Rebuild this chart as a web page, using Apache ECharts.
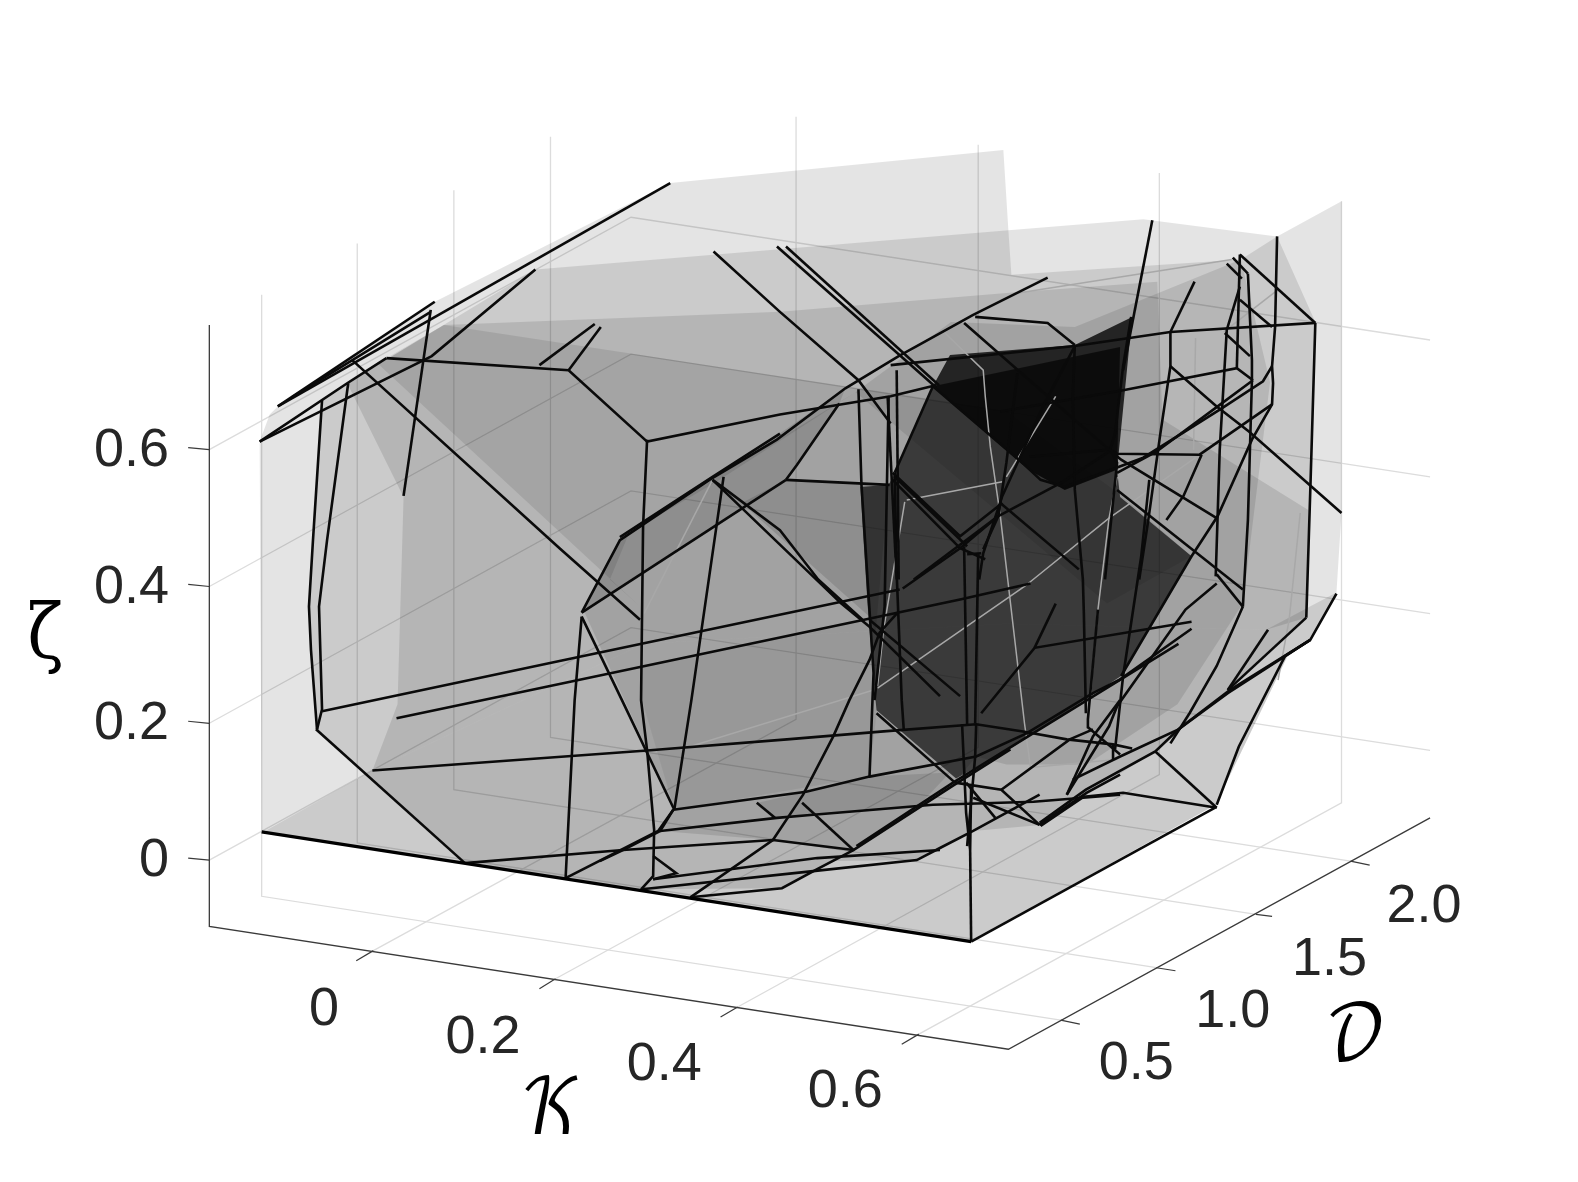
<!DOCTYPE html>
<html><head><meta charset="utf-8">
<style>html,body{margin:0;padding:0;background:#fff}#c{width:1578px;height:1182px}</style>
<script src="https://cdn.jsdelivr.net/npm/echarts@6/dist/echarts.min.js"></script>
</head><body><div id="c"></div>
<script>
const zTickLabels=[['0.6',168,448],['0.4',168,585],['0.2',168,720],['0',168,856]];
const kTickLabels=[['0',322,1004],['0.2',480,1032],['0.4',660,1059],['0.6',840,1086]];
const dTickLabels=[['0.5',1129,1058],['1.0',1225,1006],['1.5',1321,954],['2.0',1415,902]];
const axisTitles=[['ζ',45,632],['𝒦',548,1105],['𝒟',1347,1030]];

const axisBox=[[[208,323],[208,921],[1002,1043],[1421,813]]];
const axisTicks=[
[[187,445],[208,447]],[[187,581],[208,583]],[[187,717],[208,719]],[[187,853],[208,855]],
[[371,945],[354,955]],[[552,973],[536,983]],[[733,1001],[716,1011]],[[913,1028],[896,1038]],
[[1054,1014],[1073,1018]],[[1149,962],[1168,965]],[[1248,909],[1264,911]],[[1342,856],[1361,860]]];
const gridLines=[
[[208,447],[627,216],[1421,338]],[[208,583],[627,352],[1421,474]],[[208,719],[627,488],[1421,610]],[[208,855],[627,624],[1421,746]],
[[260,293],[260,891],[1054,1014]],[[355,242],[355,838],[1149,962]],[[451,189],[451,785],[1248,909]],[[547,136],[547,733],[1342,856]],
[[371,945],[791,715],[791,116]],[[552,973],[972,743],[972,144]],[[733,1001],[1152,770],[1152,172]],[[913,1028],[1333,798],[1333,200]]];

const fillSilhouette=[[258,439],[268,412],[276,404],[432,300],[666,182],[997,149],[1002,229],[1136,218],[1269,235],[1333,200],[1333,510],[1328,589],[1302,636],[1279,653],[1208,800],[965,936],[260,828]];
const fillFloor=[[260,828],[965,936],[1208,800],[1279,653],[1302,636],[1328,589],[1258,626],[1000,620],[640,640],[370,766]];
const fillBackPlane=[[320,398],[345,381],[532,268],[1002,229],[1005,273],[1233,258],[1269,235],[1307,320],[1302,480],[1298,614],[1222,685],[1147,747],[1079,791],[1034,820],[967,826],[911,855],[830,856],[777,883],[640,884],[462,858],[315,725],[307,603],[311,537]];
const fillMiddle=[[345,381],[441,323],[775,310],[1003,291],[1150,280],[1155,417],[1300,507],[1298,614],[1258,626],[1000,620],[640,640],[370,766],[395,700],[401,494]];
const fillWedge=[[375,361],[441,323],[775,374],[1000,408],[1111,490],[1184,553],[1100,600],[850,390],[715,477],[625,530],[606,576],[636,603]];
const fillBody=[[580,607],[616,537],[708,477],[850,390],[945,320],[1068,325],[1233,258],[1262,380],[1235,600],[1170,700],[1080,760],[1000,760],[970,752],[864,772],[670,805]];
const fillBodyUpper=[[578,609],[616,537],[708,477],[840,386],[834,401],[781,477]];
const fillBodyRight=[[737,500],[781,477],[883,482],[870,630],[864,613]];
const fillBodyLower=[[638,662],[864,615],[872,700],[864,772],[670,805],[638,696]];
const fillLowerBand=[[656,826],[669,805],[864,772],[970,752],[947,780],[848,845],[768,835]];
const fillLowerDark=[[753,798],[801,787],[864,772],[944,768],[911,803],[808,810],[770,813]];
const fillCore=[[927,384],[1113,345],[1110,467],[1113,494],[1184,553],[1114,672],[1004,744],[950,774],[871,706],[868,676],[862,600],[857,520],[855,484],[883,482],[889,471]];
const fillCap=[[944,353],[1068,343],[1125,315],[1110,467],[1058,487],[1022,467],[927,384]];
const fillLayers=[
 [fillSilhouette,.106],[fillFloor,.106],[fillBackPlane,.106],[fillMiddle,.106],
 [fillWedge,.09],[fillBody,.1],[fillBodyUpper,.12],[fillBodyRight,.12],[fillBodyLower,.06],[fillLowerBand,.1],[fillLowerDark,.1],[fillCore,.64],[fillCap,.78]];

const blackEdges=[
// upper left
[[276,404],[432,300]],[[276,404],[666,182]],[[258,439],[429,354],[532,268]],[[258,439],[345,381],[384,356]],[[290,395],[428,310]],
[[384,356],[565,368],[643,439],[775,412],[885,394],[930,383]],[[536,363],[591,322]],[[565,368],[597,325]],
[[428,308],[401,493]],[[320,398],[311,537],[307,603],[309,646],[315,725]],[[346,381],[325,537],[317,603],[320,705],[315,725]],
[[350,358],[556,545],[636,616]],[[643,437],[639,523],[637,696],[643,746],[650,825],[649,871],[637,884]],
// left face of the body
[[578,609],[616,537],[705,477],[772,437],[840,386],[893,354],[967,313],[1041,276]],[[616,534],[708,474],[775,431]],
[[578,609],[781,477]],[[708,477],[836,600],[864,623],[934,692]],[[719,474],[687,696],[670,805]],
[[578,613],[618,696],[670,805]],[[578,613],[571,696],[562,873]],[[562,873],[654,826],[669,805]],
[[781,477],[792,462],[834,401]],[[781,477],[884,482]],[[853,387],[856,482],[868,669],[864,772]],[[883,394],[879,603],[869,696]],
[[889,470],[891,570],[896,696],[898,725]],[[889,470],[927,384]],[[887,477],[954,545],[979,556]],[[887,470],[954,533],[996,500]],[[897,585],[954,545],[992,513]],
[[892,609],[874,629],[864,656],[844,696],[828,732],[798,790],[768,835],[686,892]],[[864,616],[954,692]],
[[320,707],[556,657],[894,586]],[[394,714],[556,680],[954,596],[1024,580]],
// top centre
[[709,250],[775,310],[853,378],[885,421]],[[772,245],[930,385]],[[781,245],[933,383]],
[[969,315],[1041,321],[1068,343]],[[885,363],[1068,344],[1163,330],[1307,321]],
// right
[[1307,321],[1302,487],[1298,614]],[[1269,235],[1267,325],[1264,364],[1265,381],[1264,402],[1244,437],[1210,513],[1184,553],[1114,672]],
[[1232,253],[1307,321]],[[1225,256],[1240,272]],[[1219,262],[1234,277]],[[1232,298],[1264,325]],[[1232,253],[1229,366]],
[[1240,272],[1244,358],[1244,378],[1240,517],[1235,603]],[[1232,285],[1219,328],[1212,447],[1208,573]],[[1217,331],[1242,354]],
[[1163,331],[1163,364],[1153,431],[1141,517],[1132,576]],[[1163,364],[1209,404],[1241,429],[1333,510]],
[[994,409],[1116,388],[1229,366],[1245,378]],[[1264,364],[1255,379],[1214,406],[1136,455],[1058,484],[1034,477],[1018,462],[927,384]],
[[1245,378],[1214,401],[1149,449],[1110,470]],[[1264,402],[1192,452],[1110,451],[1103,447],[1023,454]],[[1194,452],[1176,493],[1159,517]],
[[1068,343],[1066,394],[1068,487],[1076,576],[1077,610],[1079,709]],
[[1124,315],[1116,364],[1108,431],[1103,447],[1110,460],[1098,576]],[[1145,219],[1116,368]],[[1187,280],[1163,330]],
[[1068,344],[1038,401],[996,493],[977,550],[973,576]],[[1011,371],[1000,460],[992,513],[977,546]],
[[958,321],[1072,421],[1114,457],[1209,515]],[[992,513],[1056,479],[1102,449]],[[908,576],[992,513]],[[994,500],[1072,566]],
[[889,474],[961,543]],[[961,551],[975,550]],
[[708,477],[719,485],[775,527],[813,576],[857,616]],
[[882,394],[891,576]],[[891,368],[893,576]],
[[1184,618],[1028,644],[975,709]],[[1049,600],[1028,644]],
[[1091,606],[1081,715],[1081,724]],[[1110,487],[1235,586]],[[1209,571],[1235,603]],
[[1209,580],[1178,606],[1110,702],[1102,722],[1060,790]],[[1235,603],[1209,662],[1182,709],[1163,739]],
[[1108,745],[1116,672],[1134,553],[1142,477]],
// lower front
[[370,766],[643,746],[782,735],[878,727],[970,720],[1015,727],[1060,735],[1106,740],[1125,744]],
[[669,805],[801,787],[864,772],[970,752],[1020,729],[1086,689],[1112,676],[1184,625]],
[[656,826],[772,813],[808,810],[927,800],[962,799],[1027,797],[1113,790]],
[[596,856],[619,845],[656,826],[669,805]],[[462,858],[619,845],[768,835],[848,845]],
[[649,874],[812,853],[934,845]],[[638,884],[808,866],[911,855],[934,843],[967,826],[1033,790]],
[[686,892],[777,883],[812,864],[848,845],[947,781],[1004,745]],[[851,841],[947,778],[1041,720],[1171,640]],
[[797,798],[848,845]],[[752,798],[770,813]],[[649,851],[672,868],[649,874]],[[871,709],[949,778]],
[[956,720],[960,808],[964,845],[965,782]],[[965,936],[964,845]],[[970,720],[969,752],[961,841]],
[[949,778],[995,785],[1033,820]],[[995,785],[1063,735],[1086,725]],[[1033,820],[1080,788],[1113,770]],[[967,793],[1033,820]],[[960,778],[989,813]],
[[1060,790],[1086,732],[1113,696]],[[1081,723],[1113,750]],[[1106,740],[1106,755]],[[1066,775],[1113,752],[1171,725],[1220,689],[1302,636]],
[[1209,803],[1148,747]],[[1209,803],[1116,788],[1077,792],[1034,821]],
[[1209,800],[1231,742],[1277,652],[1302,636],[1328,590]],[[1302,636],[1222,686],[1171,725],[1148,747],[1079,785],[1033,818]],
[[965,936],[1207,803]],[[1298,614],[1220,686]],[[1260,626],[1220,686]],
[[972,550],[969,719]],[[958,543],[961,720]],
[[462,858],[314,725]]];
const thickEdges=[[[260,827],[965,936]]];
const lightEdges=[
[[939,331],[977,368],[979,394],[984,444],[994,513],[1018,719],[1024,763],[1110,755]],
[[901,497],[996,479]],[[899,499],[878,626],[872,682]],[[872,684],[1018,583],[1102,515],[1188,455]],
[[1110,474],[1102,515],[1091,606],[1085,672],[1083,709]],[[1188,336],[1186,447]],[[1270,288],[1216,330]],[[1007,292],[1224,258]],
[[1000,474],[1049,394]],[[1292,510],[1281,616],[1270,676]],[[676,745],[868,686]],[[640,610],[708,477]]];

function lineSeries(list,color,width,z){
 return {type:'lines',coordinateSystem:'cartesian2d',polyline:true,silent:true,z:z,animation:false,
  lineStyle:{color:color,width:width,opacity:1},data:list.map(c=>({coords:c}))};
}
function textSeries(list,style,z,sx,sy){
 return {type:'custom',coordinateSystem:'cartesian2d',clip:false,silent:true,z:z,animation:false,
  data:list.map(t=>[t[1],t[2]]),
  renderItem:(p,api)=>{const c=api.coord([api.value(0),api.value(1)]);
   return {type:'text',x:c[0],y:c[1],scaleX:sx||1,scaleY:sy||1,style:Object.assign({text:list[p.dataIndex][0],verticalAlign:'middle'},style)};}};
}
const polySeries={type:'custom',coordinateSystem:'cartesian2d',clip:false,silent:true,z:2,animation:false,
 data:fillLayers.map((l,i)=>[i]),
 renderItem:(p,api)=>{const l=fillLayers[p.dataIndex];
  return {type:'polygon',shape:{points:l[0].map(q=>api.coord(q))},style:{fill:'rgba(0,0,0,'+l[1]+')',stroke:null}};}};
const numFont={fontFamily:'Liberation Sans',fontSize:54,fill:'#262626'};
const chart=echarts.init(document.getElementById('c'),null,{renderer:'canvas'});
chart.setOption({animation:false,backgroundColor:'#fff',
 grid:{left:0,right:0,top:0,bottom:0},
 xAxis:{type:'value',min:0,max:1568,show:false},
 yAxis:{type:'value',min:0,max:1175,inverse:true,show:false},
 series:[
  lineSeries(gridLines,'#dcdcdc',1.3,1),
  polySeries,
  lineSeries(lightEdges,'#a8a8a8',1.5,3),
  lineSeries(blackEdges,'#0a0a0a',2.6,4),
  lineSeries(thickEdges,'#000',3.2,5),
  lineSeries(axisBox,'#3a3a3a',1.3,5),
  lineSeries(axisTicks,'#3a3a3a',1.2,5),
  textSeries(zTickLabels,Object.assign({align:'right'},numFont),6),
  textSeries(kTickLabels,Object.assign({align:'center'},numFont),6),
  textSeries(dTickLabels,Object.assign({align:'center'},numFont),6),
  textSeries(axisTitles,{align:'center',fontFamily:'DejaVu Math TeX Gyre, DejaVu Serif, Liberation Serif',fontSize:70,fill:'#000'},6,0.95,1.1)
 ]});
</script></body></html>
